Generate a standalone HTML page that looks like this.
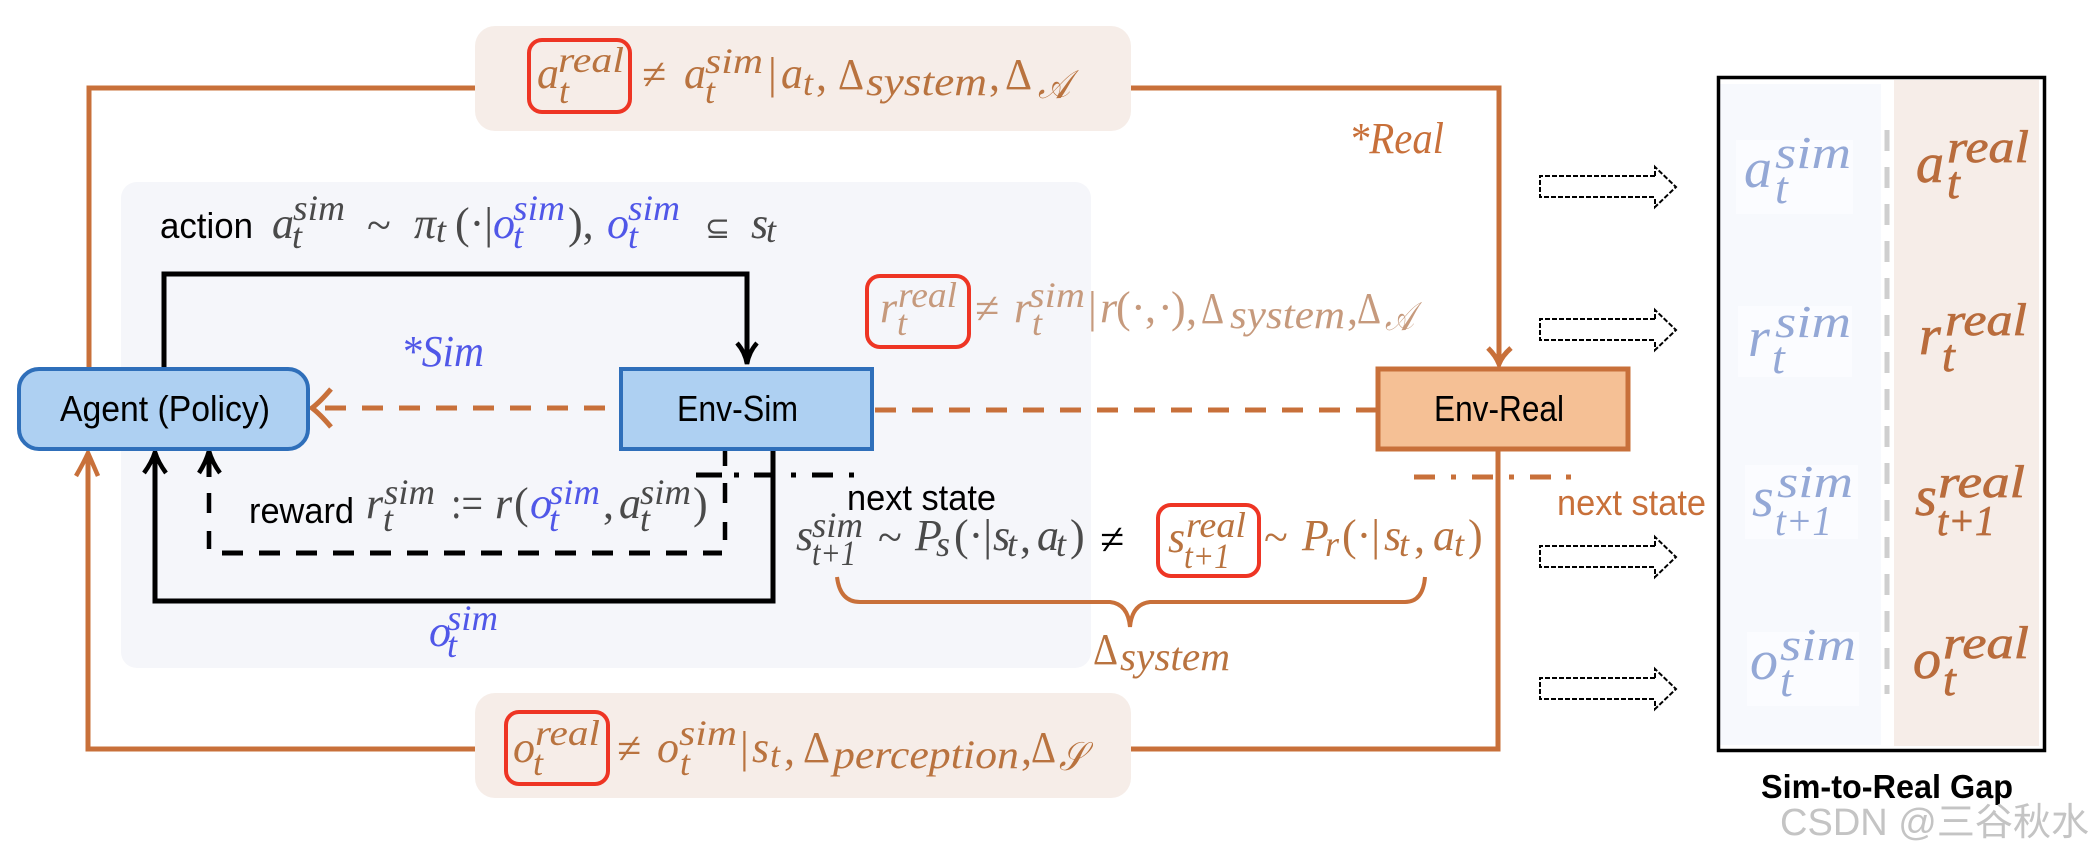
<!DOCTYPE html>
<html><head><meta charset="utf-8"><style>
html,body{margin:0;padding:0;background:#fff}
svg{display:block}
text{white-space:pre}
.m{font:italic 44px "Liberation Serif",serif}
.u{font:44px "Liberation Serif","DejaVu Sans",serif}
.p{font:italic 36px "Liberation Serif",serif}
.p2{font:italic 40px "Liberation Serif",serif}
.t1{font:italic 36px "Liberation Serif",serif}
.sc{font:italic 40px "DejaVu Sans","DejaVu Serif","Liberation Serif",serif}
.c{font:36px "Liberation Sans",sans-serif}
.L{font:italic 56px "Liberation Serif",serif}
.S{font:italic 46px "Liberation Serif",serif}
.T{font:italic 42px "Liberation Serif",serif}
.o{fill:#b9733f}.l{fill:#c69a7d}.d{fill:#4a4a4a}.b{fill:#5057e8}.k{fill:#000}.a{fill:#c8703a}
.v{fill:#94a8d6}.w{fill:#b96c3c;stroke:#b96c3c;stroke-width:.7}
</style></head><body>
<svg width="2094" height="856" viewBox="0 0 2094 856" xmlns="http://www.w3.org/2000/svg">
<rect width="2094" height="856" fill="#fff"/>
<!-- sim panel -->
<rect x="121" y="182" width="970" height="486" rx="16" fill="#f5f6fa"/>
<!-- orange frame -->
<g fill="none" stroke="#c8703a" stroke-width="5">
<path d="M475,88H89V370"/>
<path d="M1131,88H1499V364"/>
<path d="M475,749H88V456"/>
<path d="M1131,749H1498V450"/>
<path d="M76,476Q84,462 88,453Q92,462 98,476" stroke-width="4.5"/>
<path d="M1488,348Q1496,356 1499,364Q1502,356 1511,348" stroke-width="5"/>
<path d="M331,389Q320,402 312,408Q320,414 331,427" stroke-width="5"/>
<path d="M605,408H325" stroke-dasharray="21 16"/>
<path d="M875,410H1378" stroke-dasharray="21 16"/>
<path d="M1414,477H1435M1451,477H1456M1472,477H1493M1509,477H1514M1530,477H1551M1566,477H1571"/>
<path d="M837,577Q840,602 860,602H1110Q1128,604 1130,627Q1132,604 1150,602H1405Q1423,602 1425,577" stroke-width="4"/>
</g>
<!-- formula boxes -->
<rect x="475" y="26" width="656" height="105" rx="20" fill="#f6ede8"/>
<rect x="475" y="693" width="656" height="105" rx="20" fill="#f6ede8"/>
<!-- black arrows -->
<g fill="none" stroke="#000" stroke-width="5">
<path d="M164,368V274H747V362"/>
<path d="M737,343Q745,352 747,364Q749,352 757,343" stroke-width="4.5"/>
<path d="M773,447V601H155V456"/>
<path d="M144,473Q152,462 155,452Q158,462 166,473" stroke-width="4.5"/>
<path d="M209,477V456"/>
<path d="M199,473Q206,462 209,451Q212,462 220,473" stroke-width="4.5"/>
<path d="M209,493V513M209,531V549M725,447V466M725,483V503M725,522V540" stroke-width="4.5"/>
<path d="M222,553H722" stroke-dasharray="21 16"/>
<path d="M696,475H722M734,475H739M754,475H775M791,475H796M812,475H833M849,475H854"/>
</g>
<!-- boxes -->
<rect x="19" y="369" width="289" height="80" rx="20" fill="#aed0f2" stroke="#2f6fba" stroke-width="4"/>
<rect x="621" y="369" width="251" height="80" fill="#aed0f2" stroke="#2f6fba" stroke-width="4"/>
<rect x="1378" y="369" width="250" height="80" fill="#f5c095" stroke="#c8703a" stroke-width="5"/>
<text class="c k" x="60" y="421" textLength="210" lengthAdjust="spacingAndGlyphs">Agent (Policy)</text>
<text class="c k" x="677" y="421" textLength="121" lengthAdjust="spacingAndGlyphs">Env-Sim</text>
<text class="c k" x="1434" y="421" textLength="130" lengthAdjust="spacingAndGlyphs">Env-Real</text>
<!-- red boxes -->
<g fill="none" stroke="#ee3524" stroke-width="4">
<rect x="529" y="40" width="101" height="72" rx="13"/>
<rect x="867" y="276" width="102" height="71" rx="13"/>
<rect x="1158" y="505" width="101" height="71" rx="13"/>
<rect x="506" y="712" width="102" height="72" rx="13"/>
</g>
<!-- top equation -->
<g class="o">
<text class="m" x="537" y="88">a</text><text class="p" x="558" y="72" textLength="66" lengthAdjust="spacingAndGlyphs">real</text><text class="p" x="559" y="103">t</text>
<text class="u" x="642" y="89">≠</text>
<text class="m" x="684" y="88">a</text><text class="p" x="705" y="73" textLength="58" lengthAdjust="spacingAndGlyphs">sim</text><text class="p" x="705" y="103">t</text>
<text class="u" x="768" y="88">|</text><text class="m" x="781" y="88">a</text><text class="p" x="803" y="95">t</text><text class="u" x="816" y="90">,</text>
<text class="u" x="838" y="89" textLength="26" lengthAdjust="spacingAndGlyphs">Δ</text><text class="p2" x="866" y="95" textLength="121" lengthAdjust="spacingAndGlyphs">system</text><text class="u" x="989" y="90">,</text>
<text class="u" x="1005" y="89" textLength="27" lengthAdjust="spacingAndGlyphs">Δ</text><text class="sc" x="1038" y="98" textLength="32" lengthAdjust="spacingAndGlyphs">𝒜</text>
</g>
<!-- action -->
<text class="c k" x="160" y="238" textLength="93" lengthAdjust="spacingAndGlyphs">action</text>
<g class="d">
<text class="m" x="272" y="238">a</text><text class="p" x="293" y="220" textLength="52" lengthAdjust="spacingAndGlyphs">sim</text><text class="p" x="292" y="248">t</text>
<text class="u" x="367" y="240">~</text>
<text class="m" x="414" y="238">π</text><text class="p" x="436" y="242">t</text>
<text class="u" x="455" y="238">(·|</text>
<text class="u" x="568" y="238">),</text>
<text class="u" x="705" y="238" style="font-family:'DejaVu Sans',sans-serif;font-size:30px">⊆</text>
<text class="m" x="751" y="238">s</text><text class="p" x="766" y="242">t</text>
</g>
<g class="b">
<text class="m" x="493" y="238">o</text><text class="p" x="513" y="220" textLength="52" lengthAdjust="spacingAndGlyphs">sim</text><text class="p" x="513" y="248">t</text>
<text class="m" x="607" y="238">o</text><text class="p" x="628" y="220" textLength="52" lengthAdjust="spacingAndGlyphs">sim</text><text class="p" x="628" y="248">t</text>
<text class="m" x="401" y="366" style="font-size:44px" textLength="83" lengthAdjust="spacingAndGlyphs">*Sim</text>
</g>
<!-- r equation -->
<g class="l">
<text class="m" x="880" y="322">r</text><text class="p" x="898" y="307" textLength="59" lengthAdjust="spacingAndGlyphs">real</text><text class="p" x="897" y="335">t</text>
<text class="u" x="975" y="323">≠</text>
<text class="m" x="1014" y="322">r</text><text class="p" x="1029" y="307" textLength="56" lengthAdjust="spacingAndGlyphs">sim</text><text class="p" x="1032" y="335">t</text>
<text class="u" x="1088" y="322">|</text><text class="m" x="1100" y="322">r</text>
<text class="u" x="1116" y="322">(</text><text class="u" x="1131" y="322">·</text><text class="u" x="1145" y="322">,</text><text class="u" x="1158" y="322">·</text><text class="u" x="1171" y="322">)</text><text class="u" x="1186" y="324">,</text>
<text class="u" x="1201" y="323" textLength="23" lengthAdjust="spacingAndGlyphs">Δ</text><text class="p2" x="1230" y="328" textLength="115" lengthAdjust="spacingAndGlyphs">system</text><text class="u" x="1347" y="324">,</text>
<text class="u" x="1357" y="323" textLength="24" lengthAdjust="spacingAndGlyphs">Δ</text><text class="sc" x="1385" y="330" textLength="29" lengthAdjust="spacingAndGlyphs">𝒜</text>
</g>
<text class="m a" x="1349" y="153" style="font-size:44px" textLength="95" lengthAdjust="spacingAndGlyphs">*Real</text>
<!-- reward -->
<text class="c k" x="249" y="523" textLength="105" lengthAdjust="spacingAndGlyphs">reward</text>
<g class="d">
<text class="m" x="366" y="518">r</text><text class="p" x="384" y="504" textLength="51" lengthAdjust="spacingAndGlyphs">sim</text><text class="p" x="383" y="531">t</text>
<text class="u" x="451" y="518" textLength="32" lengthAdjust="spacingAndGlyphs">:=</text>
<text class="m" x="495" y="518">r</text><text class="u" x="514" y="518">(</text>
<text class="u" x="603" y="518">,</text>
<text class="m" x="619" y="518">a</text><text class="p" x="640" y="504" textLength="51" lengthAdjust="spacingAndGlyphs">sim</text><text class="p" x="640" y="531">t</text>
<text class="u" x="693" y="518">)</text>
</g>
<g class="b">
<text class="m" x="530" y="518">o</text><text class="p" x="549" y="504" textLength="51" lengthAdjust="spacingAndGlyphs">sim</text><text class="p" x="549" y="531">t</text>
<text class="m" x="429" y="646">o</text><text class="p" x="447" y="630" textLength="51" lengthAdjust="spacingAndGlyphs">sim</text><text class="p" x="447" y="657">t</text>
</g>
<text class="c k" x="847" y="510" textLength="149" lengthAdjust="spacingAndGlyphs">next state</text>
<text class="c a" x="1557" y="515" textLength="149" lengthAdjust="spacingAndGlyphs">next state</text>
<!-- s equation -->
<g class="d">
<text class="m" x="796" y="550">s</text><text class="p" x="812" y="537" textLength="51" lengthAdjust="spacingAndGlyphs">sim</text><text class="t1" x="812" y="565" textLength="44" lengthAdjust="spacingAndGlyphs">t+1</text>
<text class="u" x="878" y="552">~</text>
<text class="m" x="915" y="550">P</text><text class="p" x="936" y="556">s</text>
<text class="u" x="954" y="550">(·|</text><text class="m" x="993" y="550">s</text><text class="p" x="1007" y="556">t</text><text class="u" x="1020" y="552">,</text>
<text class="m" x="1037" y="550">a</text><text class="p" x="1056" y="556">t</text><text class="u" x="1070" y="550">)</text>
</g>
<text class="u k" x="1100" y="554">≠</text>
<g class="o">
<text class="m" x="1168" y="552">s</text><text class="p" x="1186" y="537" textLength="60" lengthAdjust="spacingAndGlyphs">real</text><text class="t1" x="1184" y="568" textLength="46" lengthAdjust="spacingAndGlyphs">t+1</text>
<text class="u" x="1264" y="552">~</text>
<text class="m" x="1302" y="550">P</text><text class="p" x="1325" y="556">r</text>
<text class="u" x="1342" y="550">(·|</text><text class="m" x="1384" y="550">s</text><text class="p" x="1399" y="556">t</text><text class="u" x="1414" y="552">,</text>
<text class="m" x="1433" y="550">a</text><text class="p" x="1454" y="556">t</text><text class="u" x="1468" y="550">)</text>
<text class="u" x="1093" y="664" textLength="25" lengthAdjust="spacingAndGlyphs">Δ</text><text class="p2" x="1120" y="670" textLength="110" lengthAdjust="spacingAndGlyphs">system</text>
</g>
<!-- bottom equation -->
<g class="o">
<text class="m" x="513" y="762">o</text><text class="p" x="535" y="745" textLength="65" lengthAdjust="spacingAndGlyphs">real</text><text class="p" x="533" y="775">t</text>
<text class="u" x="617" y="763">≠</text>
<text class="m" x="657" y="762">o</text><text class="p" x="679" y="745" textLength="58" lengthAdjust="spacingAndGlyphs">sim</text><text class="p" x="680" y="775">t</text>
<text class="u" x="740" y="762">|</text><text class="m" x="752" y="762">s</text><text class="p" x="770" y="767">t</text><text class="u" x="784" y="764">,</text>
<text class="u" x="803" y="762" textLength="27" lengthAdjust="spacingAndGlyphs">Δ</text><text class="p2" x="833" y="768" textLength="186" lengthAdjust="spacingAndGlyphs">perception</text><text class="u" x="1021" y="764">,</text>
<text class="u" x="1031" y="762" textLength="25" lengthAdjust="spacingAndGlyphs">Δ</text><text class="sc" x="1059" y="770" textLength="26" lengthAdjust="spacingAndGlyphs">𝒮</text>
</g>
<!-- hollow arrows -->
<g fill="none" stroke="#000" stroke-width="2" stroke-dasharray="5 2">
<path d="M1655,176H1540V197H1655M1655,176V167L1676,187L1655,207V197"/>
<path d="M1655,319H1540V340H1655M1655,319V310L1676,330L1655,350V340"/>
<path d="M1655,546H1540V567H1655M1655,546V537L1676,557L1655,577V567"/>
<path d="M1655,678H1540V699H1655M1655,678V669L1676,689L1655,709V699"/>
</g>
<!-- right panel -->
<rect x="1720" y="84" width="161" height="661" fill="#f7f9fd"/>
<rect x="1894" y="80" width="145" height="666" fill="#f6ede8"/>
<rect x="1736" y="140" width="117" height="74" fill="#fbfcff"/>
<rect x="1738" y="306" width="114" height="71" fill="#fbfcff"/>
<rect x="1745" y="465" width="113" height="74" fill="#fbfcff"/>
<rect x="1747" y="632" width="112" height="74" fill="#fbfcff"/>
<rect x="1718.5" y="77.5" width="326" height="673" fill="none" stroke="#000" stroke-width="3.5"/>
<path d="M1887,130V694" stroke="#cfcfcf" stroke-width="5" fill="none" stroke-dasharray="21 16"/>
<g class="v">
<text class="L" x="1744" y="187">a</text><text class="S" x="1775" y="168" textLength="76" lengthAdjust="spacingAndGlyphs">sim</text><text class="S" x="1775" y="203">t</text>
<text class="L" x="1748" y="356">r</text><text class="S" x="1775" y="337" textLength="76" lengthAdjust="spacingAndGlyphs">sim</text><text class="S" x="1772" y="373">t</text>
<text class="L" x="1752" y="516">s</text><text class="S" x="1777" y="497" textLength="76" lengthAdjust="spacingAndGlyphs">sim</text><text class="T" x="1775" y="535" textLength="57" lengthAdjust="spacingAndGlyphs">t+1</text>
<text class="L" x="1750" y="679">o</text><text class="S" x="1780" y="660" textLength="76" lengthAdjust="spacingAndGlyphs">sim</text><text class="S" x="1780" y="696">t</text>
</g>
<g class="w">
<text class="L" x="1916" y="182">a</text><text class="S" x="1947" y="162" textLength="82" lengthAdjust="spacingAndGlyphs">real</text><text class="S" x="1947" y="198">t</text>
<text class="L" x="1919" y="354">r</text><text class="S" x="1945" y="335" textLength="82" lengthAdjust="spacingAndGlyphs">real</text><text class="S" x="1942" y="371">t</text>
<text class="L" x="1915" y="515">s</text><text class="S" x="1938" y="497" textLength="87" lengthAdjust="spacingAndGlyphs">real</text><text class="T" x="1937" y="535" textLength="58" lengthAdjust="spacingAndGlyphs">t+1</text>
<text class="L" x="1913" y="678">o</text><text class="S" x="1943" y="658" textLength="86" lengthAdjust="spacingAndGlyphs">real</text><text class="S" x="1943" y="695">t</text>
</g>
<text x="1761" y="798" style="font:bold 33px 'Liberation Sans',sans-serif" fill="#000" textLength="252" lengthAdjust="spacingAndGlyphs">Sim-to-Real Gap</text>
<text x="1780" y="835" style="font:38px 'Liberation Sans','Noto Sans CJK SC',sans-serif" fill="#c4c4c4" textLength="309" lengthAdjust="spacingAndGlyphs">CSDN @三谷秋水</text>
</svg>
</body></html>
